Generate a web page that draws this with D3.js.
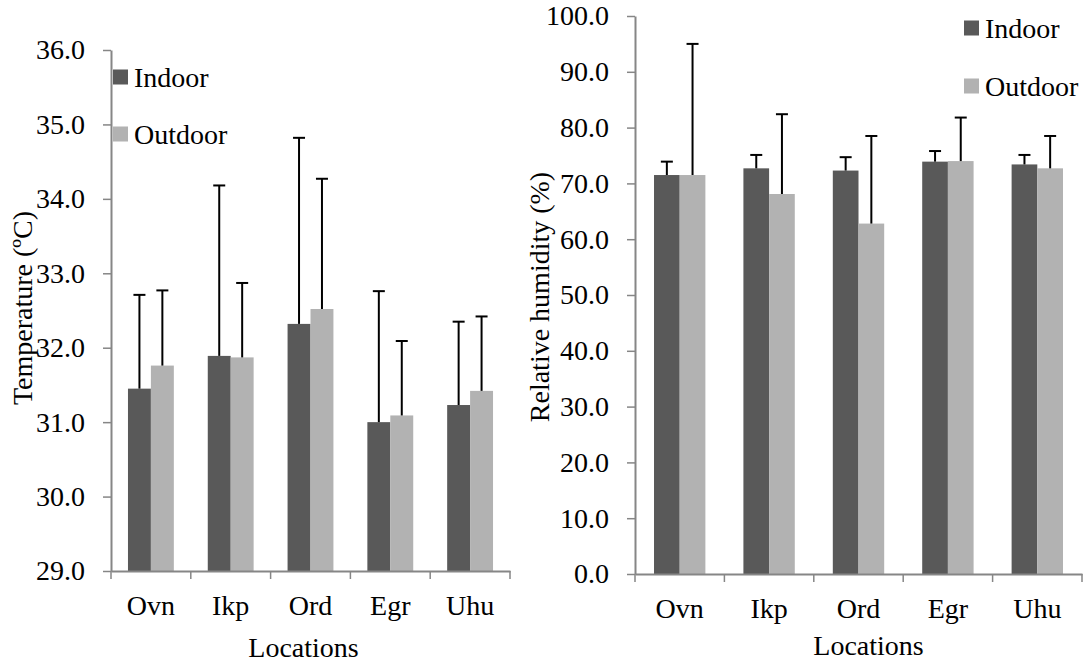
<!DOCTYPE html>
<html>
<head>
<meta charset="utf-8">
<script src="https://cdn.jsdelivr.net/npm/d3@7"></script>
<style>
  body { margin: 0; background: #fff; }
  svg text { font-family: "Liberation Serif", "Times New Roman", Times, "Nimbus Roman", "DejaVu Serif", serif !important; }
</style>
</head>
<body>
<svg id="drawing"></svg>
<script>
const locations = ['Ovn', 'Ikp', 'Ord', 'Egr', 'Uhu'];
const series = ['Indoor', 'Outdoor'];

const tempIndoor = [31.45, 31.89, 32.32, 31.00, 31.23];
const tempOutdoor = [31.76, 31.87, 32.52, 31.09, 31.42];
const tempIndoorErr = [1.26, 2.29, 2.50, 1.76, 1.12];
const tempOutdoorErr = [1.01, 1.00, 1.75, 1.00, 1.00];
const tempTicks = [29, 30, 31, 32, 33, 34, 35, 36];

const humIndoor = [71.5, 72.7, 72.3, 73.9, 73.4];
const humOutdoor = [71.5, 68.1, 62.8, 74.0, 72.7];
const humIndoorErr = [2.4, 2.4, 2.4, 1.9, 1.7];
const humOutdoorErr = [23.5, 14.3, 15.7, 7.8, 5.8];
const humTicks = [0, 10, 20, 30, 40, 50, 60, 70, 80, 90, 100];

const colors = {Indoor: '#595959', Outdoor: '#b2b2b2'};
const axisColor = '#868686';
const fontSize = 28;
const serif = '"Liberation Serif", "Times New Roman", Times, "Nimbus Roman", "DejaVu Serif", serif';

const svg = d3.select('#drawing')
    .attr('width', 1085)
    .attr('height', 665)
    .attr('font-family', serif);

function rows(indoor, outdoor, indoorErr, outdoorErr) {
    return locations.map((loc, i) => ({
        loc: loc,
        values: [
            {key: 'Indoor', value: indoor[i], err: indoorErr[i]},
            {key: 'Outdoor', value: outdoor[i], err: outdoorErr[i]}
        ]
    }));
}

function drawChart(config, data) {
    const w = config.width, h = config.height;
    const chart = svg.append('g')
        .attr('transform', `translate(${config.left}, ${config.top})`);

    const xscale = d3.scaleBand()
        .domain(locations)
        .range([0, w])
        .padding(0);
    const x1 = d3.scaleBand()
        .domain(series)
        .range([0, xscale.bandwidth()])
        .paddingInner(0)
        .paddingOuter(0.74);
    const yscale = d3.scaleLinear()
        .domain(config.domain)
        .range([h, 0]);

    // bars
    const groups = chart.selectAll('.group')
        .data(data)
        .enter()
        .append('g')
        .attr('transform', d => `translate(${xscale(d.loc)}, 0)`);

    groups.selectAll('rect')
        .data(d => d.values)
        .enter()
        .append('rect')
        .attr('x', d => x1(d.key))
        .attr('y', d => yscale(d.value))
        .attr('width', x1.bandwidth())
        .attr('height', d => h - yscale(d.value))
        .attr('fill', d => colors[d.key]);

    // error bars (upper only)
    const err = groups.selectAll('.err')
        .data(d => d.values)
        .enter()
        .append('g')
        .attr('stroke', '#000')
        .attr('stroke-width', 2);
    err.append('line')
        .attr('x1', d => x1(d.key) + x1.bandwidth() / 2)
        .attr('x2', d => x1(d.key) + x1.bandwidth() / 2)
        .attr('y1', d => yscale(d.value))
        .attr('y2', d => yscale(d.value + d.err));
    err.append('line')
        .attr('x1', d => x1(d.key) + x1.bandwidth() / 2 - 6)
        .attr('x2', d => x1(d.key) + x1.bandwidth() / 2 + 6)
        .attr('y1', d => yscale(d.value + d.err))
        .attr('y2', d => yscale(d.value + d.err));

    // y axis
    const yaxis = d3.axisLeft(yscale)
        .tickValues(config.ticks)
        .tickFormat(d3.format('.1f'))
        .tickSize(8)
        .tickSizeOuter(0)
        .tickPadding(18);
    const yg = chart.append('g').call(yaxis).attr('font-family', serif);
    yg.select('.domain').attr('stroke', axisColor).attr('stroke-width', 2);
    yg.selectAll('.tick line').attr('stroke', axisColor).attr('stroke-width', 1.5);
    yg.selectAll('.tick text')
        .attr('font-size', fontSize)
        .attr('fill', '#000');

    // x axis
    const xaxis = d3.axisBottom(xscale)
        .tickSize(0)
        .tickPadding(24);
    const xg = chart.append('g')
        .attr('transform', `translate(0, ${h})`)
        .call(xaxis)
        .attr('font-family', serif);
    xg.select('.domain').attr('stroke', axisColor).attr('stroke-width', 2);
    xg.selectAll('.tick text')
        .attr('font-size', fontSize)
        .attr('fill', '#000');
    const edges = locations.map(d => xscale(d)).concat([xscale.range()[1]]);
    xg.selectAll('.edge')
        .data(edges)
        .enter()
        .append('line')
        .attr('x1', d => d)
        .attr('x2', d => d)
        .attr('y1', 0)
        .attr('y2', 8)
        .attr('stroke', axisColor)
        .attr('stroke-width', 1.5);

    // axis titles
    svg.append('text')
        .attr('x', config.left + w / 2 + config.xTitleShift)
        .attr('y', config.top + h + config.xTitleOffset)
        .attr('text-anchor', 'middle')
        .attr('font-size', fontSize)
        .text('Locations');

    svg.append('text')
        .attr('transform', `translate(${config.yTitleX}, ${config.yTitleY}) rotate(-90)`)
        .attr('text-anchor', 'middle')
        .attr('font-size', fontSize)
        .text(config.yTitle);

    // legend
    const legend = svg.append('g')
        .attr('transform', `translate(${config.legendX}, ${config.legendY})`);
    series.forEach((s, i) => {
        legend.append('rect')
            .attr('x', 0)
            .attr('y', i * config.legendGap - 7.5)
            .attr('width', 15)
            .attr('height', 15)
            .attr('fill', colors[s]);
        legend.append('text')
            .attr('x', 21)
            .attr('y', i * config.legendGap + 9.5)
            .attr('font-size', fontSize)
            .text(s);
    });
}

drawChart({
    left: 111, top: 50, width: 399, height: 521,
    domain: [29, 36], ticks: tempTicks,
    yTitle: 'Temperature (ºC)', yTitleX: 32, yTitleY: 308,
    xTitleOffset: 86, xTitleShift: -7,
    legendX: 113, legendY: 77, legendGap: 57
}, rows(tempIndoor, tempOutdoor, tempIndoorErr, tempOutdoorErr));

drawChart({
    left: 635, top: 16, width: 447, height: 558,
    domain: [0, 100], ticks: humTicks,
    yTitle: 'Relative humidity (%)', yTitleX: 549, yTitleY: 297,
    xTitleOffset: 81, xTitleShift: 10,
    legendX: 964, legendY: 28, legendGap: 58
}, rows(humIndoor, humOutdoor, humIndoorErr, humOutdoorErr));
</script>
</body>
</html>
